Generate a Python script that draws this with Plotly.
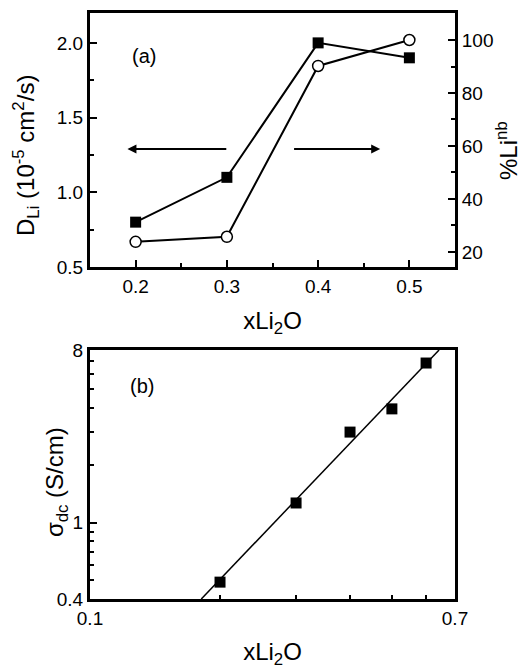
import plotly.graph_objects as go

# Panel (a)
xa = [0.2, 0.3, 0.4, 0.5]
d_li = [0.80, 1.10, 2.00, 1.90]          # D_Li (1e-5 cm^2/s), left axis
pct_li_nb = [23.8, 25.7, 90.2, 100.0]    # %Li^nb, right axis

# Panel (b)
xb = [0.2, 0.3, 0.4, 0.5, 0.6]
sigma_dc = [0.49, 1.27, 2.98, 3.94, 6.84]
fit_x = [0.181, 0.643]
fit_y = [0.4, 8.0]

FONT = "Liberation Sans, Arial, sans-serif"
BLACK = "black"

fig = go.Figure()
fig.add_trace(go.Scatter(x=xa, y=d_li, mode="lines+markers",
                         line=dict(color=BLACK, width=2),
                         marker=dict(symbol="square", size=11, color=BLACK),
                         xaxis="x", yaxis="y", showlegend=False, cliponaxis=False))
fig.add_trace(go.Scatter(x=xa, y=pct_li_nb, mode="lines+markers",
                         line=dict(color=BLACK, width=2),
                         marker=dict(symbol="circle", size=11, color="white",
                                     line=dict(color=BLACK, width=1.5)),
                         xaxis="x", yaxis="y2", showlegend=False, cliponaxis=False))
fig.add_trace(go.Scatter(x=fit_x, y=fit_y, mode="lines",
                         line=dict(color=BLACK, width=1.5),
                         xaxis="x2", yaxis="y3", showlegend=False))
fig.add_trace(go.Scatter(x=xb, y=sigma_dc, mode="markers",
                         marker=dict(symbol="square", size=11, color=BLACK),
                         xaxis="x2", yaxis="y3", showlegend=False, cliponaxis=False))

tickfont = dict(family=FONT, size=19, color=BLACK)
titlefont = dict(family=FONT, size=24, color=BLACK)
common = dict(showline=True, linecolor=BLACK, linewidth=3, ticks="inside",
              tickcolor=BLACK, tickwidth=2, ticklen=7, showgrid=False,
              zeroline=False, tickfont=tickfont, automargin=False)

fig.update_layout(
    width=522, height=670,
    margin=dict(l=90, r=67, t=13, b=71),
    plot_bgcolor="white", paper_bgcolor="white",
    font=dict(family=FONT, color=BLACK),
    xaxis=dict(**common, domain=[0, 1], range=[0.15, 0.55], anchor="y", mirror=True,
               tickvals=[0.2, 0.3, 0.4, 0.5], ticktext=["0.2", "0.3", "0.4", "0.5"],
               minor=dict(tickvals=[0.25, 0.35, 0.45], ticklen=4, tickwidth=2,
                          tickcolor=BLACK, ticks="inside"),
               title=dict(text="xLi<sub>2</sub>O", font=titlefont, standoff=17)),
    yaxis=dict(**common, domain=[0.5666, 1], range=[0.5, 2.2], anchor="x",
               tickvals=[0.5, 1.0, 1.5, 2.0], ticktext=["0.5", "1.0", "1.5", "2.0"],
               minor=dict(tickvals=[0.75, 1.25, 1.75], ticklen=4, tickwidth=2,
                          tickcolor=BLACK, ticks="inside")),
    yaxis2=dict(**common, overlaying="y", side="right", range=[14.3, 110.2], anchor="x",
                tickvals=[20, 40, 60, 80, 100], ticktext=["20", "40", "60", "80", "100"],
                minor=dict(tickvals=[30, 50, 70, 90], ticklen=4, tickwidth=2,
                           tickcolor=BLACK, ticks="inside")),
    xaxis2=dict(**common, type="log", domain=[0, 1], range=[-1, -0.1549], anchor="y3",
                mirror=True,
                tickvals=[0.1, 0.7], ticktext=["0.1", "0.7"],
                minor=dict(tickvals=[0.2, 0.3, 0.4, 0.5, 0.6], ticklen=4, tickwidth=2,
                           tickcolor=BLACK, ticks="inside"),
                title=dict(text="xLi<sub>2</sub>O", font=titlefont, standoff=16)),
    yaxis3=dict(**common, type="log", domain=[0, 0.4249], range=[-0.39794, 0.90309],
                anchor="x2", mirror=True,
                tickvals=[0.4, 1, 8], ticktext=["0.4", "1", "8"],
                minor=dict(tickvals=[0.5, 0.6, 0.7, 0.8, 0.9, 2, 3, 4, 5, 6, 7],
                           ticklen=4, tickwidth=2, tickcolor=BLACK, ticks="inside")),
    annotations=[
        dict(text="D<sub>Li</sub> (10<sup>-5</sup> cm<sup>2</sup>/s)", xref="paper",
             yref="y domain", x=-0.176, y=0.44, textangle=-90, showarrow=False,
             xanchor="center", yanchor="middle", font=titlefont),
        dict(text="σ<sub>dc</sub> (S/cm)", xref="paper", yref="y3 domain",
             x=-0.09, y=0.47, textangle=-90, showarrow=False,
             xanchor="center", yanchor="middle", font=titlefont),
        dict(text="%Li<sup>nb</sup>", xref="paper", yref="y domain", x=1.142, y=0.46,
             textangle=-90, showarrow=False, xanchor="center", yanchor="middle",
             font=titlefont),
        dict(text="(a)", xref="x domain", yref="y domain", x=0.11, y=0.88,
             showarrow=False, font=dict(family=FONT, size=20, color=BLACK)),
        dict(text="(b)", xref="x2 domain", yref="y3 domain", x=0.104, y=0.908,
             showarrow=False, font=dict(family=FONT, size=20, color=BLACK)),
        dict(x=0.191, y=1.29, ax=0.301, ay=1.29, xref="x", yref="y", axref="x", ayref="y",
             text="", showarrow=True, arrowhead=2, arrowsize=0.9, arrowwidth=2,
             arrowcolor=BLACK),
        dict(x=0.468, y=1.29, ax=0.372, ay=1.29, xref="x", yref="y", axref="x", ayref="y",
             text="", showarrow=True, arrowhead=2, arrowsize=0.9, arrowwidth=2,
             arrowcolor=BLACK),
    ],
)

fig.write_html("out.html", config={"displayModeBar": False},
               post_script="document.body.style.margin='0';")
